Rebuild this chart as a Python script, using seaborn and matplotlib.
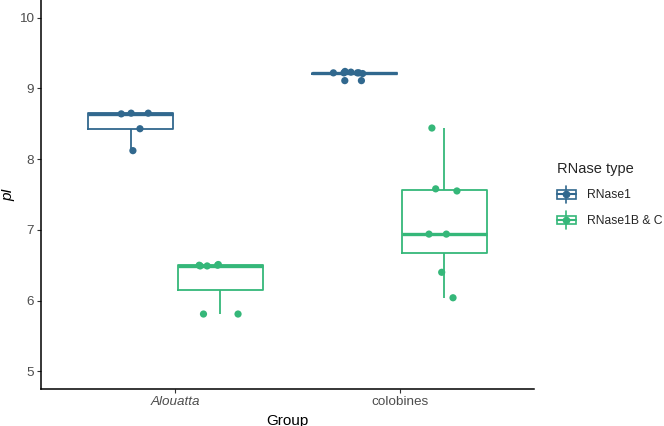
import numpy as np
import pandas as pd
import matplotlib
matplotlib.use("Agg")
import matplotlib.pyplot as plt
from matplotlib.lines import Line2D
from matplotlib.patches import Rectangle
from matplotlib.legend_handler import HandlerBase
import seaborn as sns

# --- dados (pI por grupo e tipo de RNase) ---
grupos = ["Alouatta", "colobines"]
tipos = ["RNase1", "RNase1B & C"]
cores = ["#31688E", "#35B779"]

alouatta_rnase1 = [8.12, 8.43, 8.64, 8.65, 8.65]
alouatta_rnase1bc = [5.81, 5.81, 6.49, 6.49, 6.50, 6.50, 6.51]
colobines_rnase1 = [9.11, 9.11, 9.21, 9.22, 9.22, 9.22, 9.22, 9.23, 9.24]
colobines_rnase1bc = [6.04, 6.40, 6.94, 6.94, 7.55, 7.58, 8.44]

linhas = []
for g, t, vals in [("Alouatta", "RNase1", alouatta_rnase1),
                   ("Alouatta", "RNase1B & C", alouatta_rnase1bc),
                   ("colobines", "RNase1", colobines_rnase1),
                   ("colobines", "RNase1B & C", colobines_rnase1bc)]:
    for v in vals:
        linhas.append({"Group": g, "RNase type": t, "pI": v})
df = pd.DataFrame(linhas)

sns.set_style("ticks")
plt.rcParams["font.family"] = ["Liberation Sans", "DejaVu Sans"]

fig = plt.figure(figsize=(6.64, 4.26), dpi=100)
ax = fig.add_axes([41 / 664, 37 / 426, 493 / 664, 389 / 426])

paleta = dict(zip(tipos, cores))

sns.boxplot(
    data=df, x="Group", y="pI", hue="RNase type", order=grupos, hue_order=tipos,
    palette=paleta, fill=False, showfliers=False, width=0.8, gap=0.05,
    linewidth=1.3, ax=ax, legend=False,
    medianprops={"linewidth": 2.4},
    capprops={"linewidth": 0},
)

np.random.seed(3)
sns.stripplot(
    data=df, x="Group", y="pI", hue="RNase type", order=grupos, hue_order=tipos,
    palette=paleta, dodge=True, jitter=0.2, size=5.2, linewidth=0,
    ax=ax, legend=False, zorder=5,
)

ax.set_xlim(-0.6, 1.6)
ax.set_ylim(4.75, 10.25)
ax.set_yticks([5, 6, 7, 8, 9, 10])
ax.set_xlabel("Group", fontsize=11, color="black", labelpad=4)
ax.set_ylabel("pI", fontsize=11, color="black", style="italic")
ax.yaxis.set_label_coords(-0.052, 0.5)

for s in ["top", "right"]:
    ax.spines[s].set_visible(False)
for s in ["left", "bottom"]:
    ax.spines[s].set_color("black")
    ax.spines[s].set_linewidth(1.1)
ax.tick_params(length=3, width=0.8, color="#333333", labelcolor="#4D4D4D", labelsize=9.7, pad=2)
ax.get_xticklabels()[0].set_style("italic")


# glifo de legenda no estilo boxplot
class BoxHandler(HandlerBase):
    def create_artists(self, legend, orig_handle, xdescent, ydescent, width, height, fontsize, trans):
        c = orig_handle.get_color()
        cx = width / 2 - xdescent
        cy = height / 2 - ydescent
        bw, bh = width, height * 0.62
        rect = Rectangle((cx - bw / 2, cy - bh / 2), bw, bh, fill=False, edgecolor=c, lw=1.2, transform=trans)
        med = Line2D([cx - bw / 2, cx + bw / 2], [cy, cy], color=c, lw=1.5, transform=trans)
        w1 = Line2D([cx, cx], [cy + bh / 2, cy + height * 0.62], color=c, lw=1.2, transform=trans)
        w2 = Line2D([cx, cx], [cy - bh / 2, cy - height * 0.62], color=c, lw=1.2, transform=trans)
        pt = Line2D([cx], [cy], marker="o", markersize=4.5, color=c, lw=0, transform=trans)
        return [rect, med, w1, w2, pt]


handles = [Line2D([], [], color=c) for c in cores]
leg = fig.legend(
    handles, tipos, title="RNase type", loc="upper left",
    bbox_to_anchor=(557 / 664, 1 - 162 / 426), frameon=False,
    borderpad=0, borderaxespad=0,
    handler_map={Line2D: BoxHandler()}, fontsize=8.7, title_fontsize=10.5,
    handlelength=1.57, handleheight=1.4, labelspacing=0.95, handletextpad=0.9,
    alignment="left",
)

fig.savefig("out.png", dpi=100, facecolor="white")
